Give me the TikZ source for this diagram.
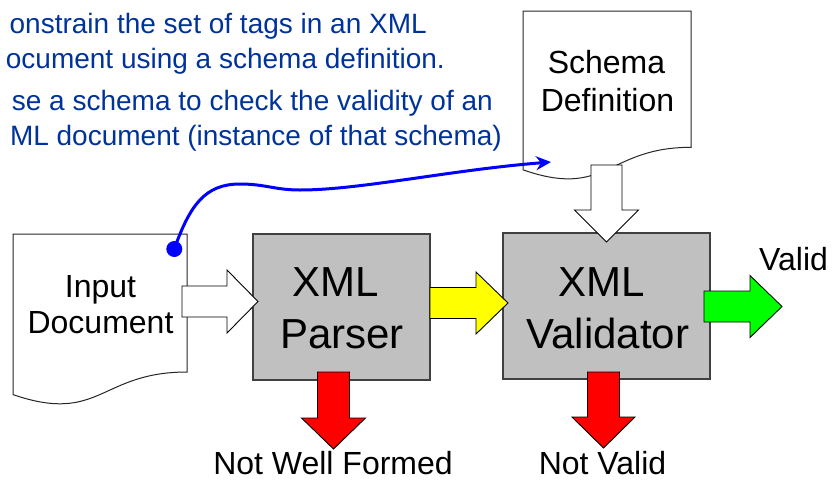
\documentclass[tikz,border=0pt]{standalone}
\usepackage{fontspec}
\setmainfont{Liberation Sans}
\usetikzlibrary{arrows.meta}
\definecolor{boxgray}{RGB}{192,192,192}
\definecolor{boxedge}{RGB}{64,64,64}
\definecolor{textblue}{RGB}{0,51,153}
\definecolor{linkblue}{RGB}{0,0,255}
\definecolor{arrowgreen}{RGB}{0,255,0}
\definecolor{arrowred}{RGB}{255,0,0}
\definecolor{arrowyellow}{RGB}{255,255,0}
% right-pointing block arrow: style, x start, x head base, x tip, y centre, shaft half, head half
\newcommand\arrowR[7]{\draw[blockarrow,#1] (#2,#5-#6) -- (#3,#5-#6) -- (#3,#5-#7) -- (#4,#5) -- (#3,#5+#7) -- (#3,#5+#6) -- (#2,#5+#6) -- cycle;}
% down-pointing block arrow: style, y start, y head base, y tip, x centre, shaft half, head half
\newcommand\arrowD[7]{\draw[blockarrow,#1] (#5-#6,#2) -- (#5+#6,#2) -- (#5+#6,#3) -- (#5+#7,#3) -- (#5,#4) -- (#5-#7,#3) -- (#5-#6,#3) -- cycle;}
\begin{document}
\begin{tikzpicture}[x=1pt,y=-1pt,
  boxst/.style={draw=boxedge, fill=boxgray, line width=1.3pt, inner sep=0pt, minimum height=146pt},
  docst/.style={draw=black!85, fill=white, line width=1pt},
  blockarrow/.style={draw=black, line width=0.9pt, line join=miter},
  bigtxt/.style={font=\fontsize{42}{50}\selectfont, anchor=base, inner sep=0pt},
  midtxt/.style={font=\fontsize{32}{38}\selectfont, anchor=base, inner sep=0pt},
  notetxt/.style={font=\fontsize{28}{34}\selectfont, text=textblue, anchor=base east, inner sep=0pt},
  link/.style={draw=linkblue, line width=3pt, -{Stealth[length=15pt,width=14pt,inset=5pt]}}]
\useasboundingbox (0,0) rectangle (832,480);

% notes (top left)
\node[notetxt] (n1) at (427,33) {onstrain the set of tags in an XML};
\node[notetxt] (n2) at (445,68) {ocument using a schema definition.};
\node[notetxt] (n3) at (493,110) {se a schema to check the validity of an};
\node[notetxt] (n4) at (502,145) {ML document (instance of that schema)};

% documents
\draw[docst] (13,234) -- (187,234) -- (187,372) .. controls (100,372) and (100,424.5) .. (13,394.6) -- cycle;
\node[midtxt] (inp1) at (100.5,297) {Input};
\node[midtxt] (inp2) at (100.5,333) {Document};

\draw[docst] (523,11) -- (691,11) -- (691,147.3) .. controls (607,147.3) and (607,199.3) .. (523,169.8) -- cycle;
\node[midtxt] (sch1) at (606.5,73) {Schema};
\node[midtxt] (sch2) at (607.5,111) {Definition};

% processing boxes
\node[boxst, minimum width=177pt] (parser) at (341.5,307) {};
\node[bigtxt] (p1) at (335.5,296) {XML};
\node[bigtxt] (p2) at (342,348) {Parser};

\node[boxst, minimum width=207pt] (validator) at (606.5,306) {};
\node[bigtxt] (v1) at (601.5,296) {XML};
\node[bigtxt] (v2) at (608,348) {Validator};

% block arrows
\arrowR{fill=white}{182}{227}{258}{301.5}{15.5}{31.5}
\arrowR{fill=arrowyellow}{430}{476}{508}{303}{15.5}{31}
\arrowR{fill=arrowgreen}{704}{750}{782}{306.5}{15.5}{31}
\arrowD{fill=arrowred}{372}{418}{449}{333.5}{16}{32}
\arrowD{fill=arrowred}{372}{417}{448}{603.5}{16}{31.5}
\arrowD{fill=white}{165}{210}{242}{606.5}{15.5}{32}

% outcome labels
\node[midtxt, text depth=0pt] (nwf) at (333,474.5) {Not Well Formed};
\node[midtxt, text depth=0pt] (nv) at (602.5,474) {Not Valid};
\node[midtxt, anchor=base west] (val) at (759,270) {Valid};

% schema reference link
\node[circle, fill=linkblue, minimum size=16pt, inner sep=0pt] (dot) at (174.3,249) {};
\coordinate (linkend) at (551,162);
\draw[link] (dot.center) .. controls (190,205) and (205,184) .. (240,184)
  .. controls (265,184) and (275,190) .. (300,190)
  .. controls (360,190) and (450,170) .. (linkend);
\end{tikzpicture}
\end{document}
